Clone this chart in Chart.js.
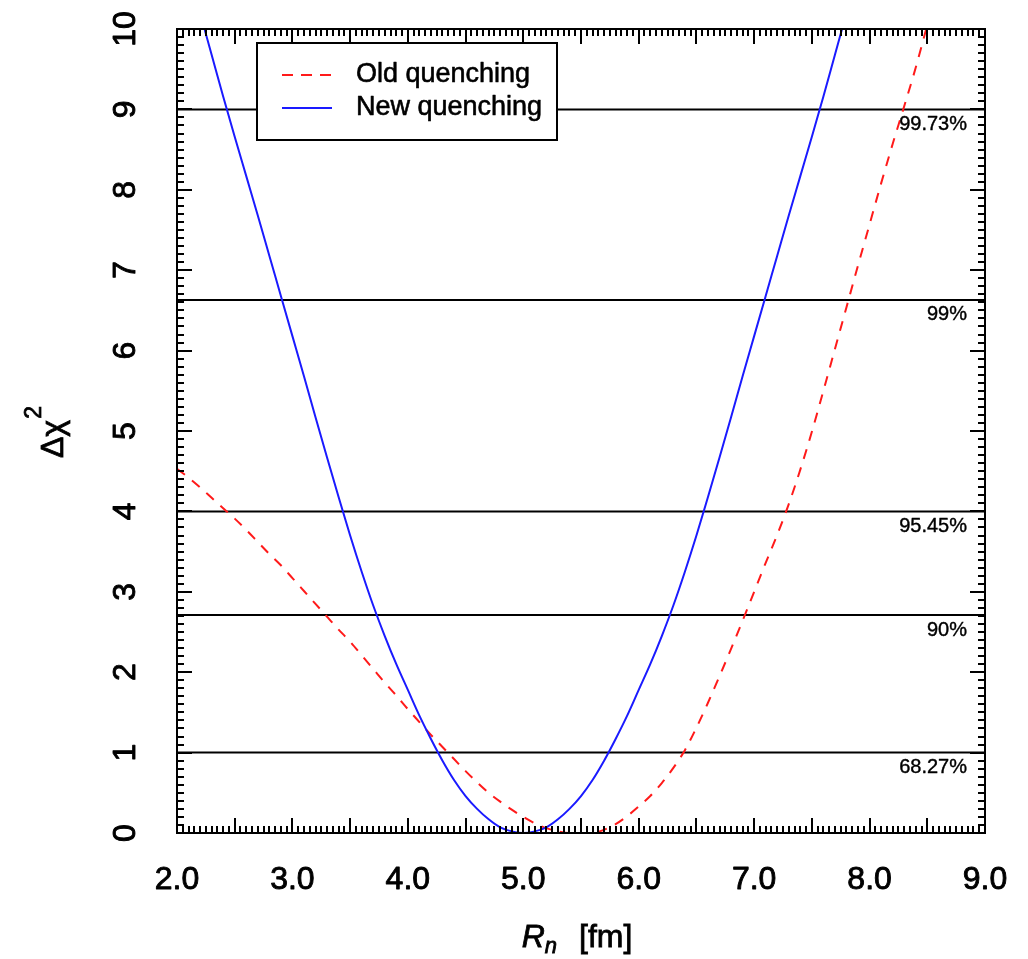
<!DOCTYPE html>
<html>
<head>
<meta charset="utf-8">
<script src="https://cdn.jsdelivr.net/npm/chart.js@4.4.1/dist/chart.umd.min.js"></script>
<style>
  html, body { margin: 0; padding: 0; background: #ffffff; }
  #wrap { width: 1028px; height: 959px; }
</style>
</head>
<body>
<div id="wrap"><canvas id="chart" width="1028" height="959"></canvas></div>
<script>
// Delta chi^2 profiles versus neutron radius R_n
const rnOld = [2.0, 2.1, 2.2, 2.3, 2.4, 2.5, 2.6, 2.7, 2.8, 2.9,
               3.0, 3.1, 3.2, 3.3, 3.4, 3.5, 3.6, 3.7, 3.8, 3.9,
               4.0, 4.1, 4.2, 4.3, 4.4, 4.5, 4.6, 4.7, 4.8, 4.9,
               5.0, 5.1, 5.2, 5.3, 5.4, 5.5, 5.6, 5.7, 5.8, 5.9,
               6.0, 6.1, 6.2, 6.3, 6.4, 6.5, 6.6, 6.7, 6.8, 6.9,
               7.0, 7.1, 7.2, 7.3, 7.4, 7.5, 7.6, 7.7, 7.8, 7.9,
               8.0, 8.1, 8.2, 8.3, 8.4, 8.5];
const chi2Old = [4.53, 4.42, 4.30, 4.17, 4.04, 3.91, 3.77, 3.62, 3.47, 3.33,
                 3.17, 3.01, 2.85, 2.69, 2.53, 2.38, 2.21, 2.04, 1.87, 1.71,
                 1.54, 1.38, 1.22, 1.07, 0.92, 0.77, 0.63, 0.50, 0.39, 0.29,
                 0.20, 0.12, 0.06, 0.02, 0.00, 0.00, 0.00, 0.04, 0.11, 0.21,
                 0.33, 0.46, 0.62, 0.81, 1.03, 1.31, 1.62, 1.95, 2.29, 2.64,
                 3.00, 3.36, 3.71, 4.09, 4.52, 4.99, 5.50, 6.02, 6.54, 7.06,
                 7.57, 8.08, 8.57, 9.04, 9.52, 10.05];

const rnNew = [2.2, 2.3, 2.4, 2.5, 2.6, 2.7, 2.8, 2.9,
               3.0, 3.1, 3.2, 3.3, 3.4, 3.5, 3.6, 3.7, 3.8, 3.9,
               4.0, 4.1, 4.2, 4.3, 4.4, 4.5, 4.6, 4.7, 4.8, 4.9,
               5.0, 5.1, 5.2, 5.3, 5.4, 5.5, 5.6, 5.7, 5.8, 5.9,
               6.0, 6.1, 6.2, 6.3, 6.4, 6.5, 6.6, 6.7, 6.8, 6.9,
               7.0, 7.1, 7.2, 7.3, 7.4, 7.5, 7.6, 7.7, 7.8];
const chi2New = [10.2, 9.68, 9.16, 8.66, 8.17, 7.68, 7.18, 6.68,
                 6.18, 5.68, 5.17, 4.67, 4.18, 3.70, 3.25, 2.83, 2.45, 2.10,
                 1.78, 1.46, 1.17, 0.90, 0.66, 0.46, 0.30, 0.17, 0.07, 0.02,
                 0.00, 0.02, 0.07, 0.17, 0.30, 0.46, 0.66, 0.90, 1.17, 1.46,
                 1.78, 2.10, 2.45, 2.83, 3.25, 3.70, 4.18, 4.67, 5.17, 5.68,
                 6.18, 6.68, 7.18, 7.68, 8.17, 8.66, 9.16, 9.68, 10.2];

// confidence-level thresholds and their labels
const clLevels = [1.0, 2.71, 4.0, 6.63, 9.0];
const clLabels = ['68.27%', '90%', '95.45%', '99%', '99.73%'];

const seriesNames = ['Old quenching', 'New quenching'];
const xTickLabels = ['2.0', '3.0', '4.0', '5.0', '6.0', '7.0', '8.0', '9.0'];
const yTickLabels = ['0', '1', '2', '3', '4', '5', '6', '7', '8', '9', '10'];

const FONT = "'Liberation Sans', Arial, Helvetica, sans-serif";
const RED = '#ff1a1a';
const BLUE = '#1a1aff';

function pairs(xs, ys) { return xs.map((x, i) => ({ x: x, y: ys[i] })); }

const X_MIN = 2, X_MAX = 9, Y_MIN = 0, Y_MAX = 10;

const datasets = [
  { label: seriesNames[1], data: pairs(rnNew, chi2New), borderColor: BLUE, borderWidth: 2,
    pointRadius: 0, fill: false, cubicInterpolationMode: 'monotone' },
  { label: seriesNames[0], data: pairs(rnOld, chi2Old), borderColor: RED, borderWidth: 2,
    borderDash: [10, 9], pointRadius: 0, fill: false, cubicInterpolationMode: 'monotone' }
];
clLevels.forEach((v, i) => {
  datasets.push({ label: clLabels[i], data: [{ x: X_MIN, y: v }, { x: X_MAX, y: v }],
    borderColor: '#000', borderWidth: 2, pointRadius: 0, fill: false });
});

// text helper; a thin outline gives the heavier look of the axis labels
function text(ctx, s, x, y, font, align, base, rot, heavy) {
  ctx.save();
  ctx.translate(x, y);
  if (rot) ctx.rotate(rot);
  ctx.font = font;
  ctx.textAlign = align;
  ctx.textBaseline = base;
  ctx.fillStyle = '#000';
  ctx.fillText(s, 0, 0);
  if (heavy) {
    ctx.strokeStyle = '#000';
    ctx.lineWidth = heavy;
    ctx.lineJoin = 'round';
    ctx.strokeText(s, 0, 0);
  }
  ctx.restore();
}

const frameAndAnnotations = {
  id: 'frameAndAnnotations',
  afterDatasetsDraw(chart) {
    const ctx = chart.ctx;
    const a = chart.chartArea;
    const xs = chart.scales.x, ys = chart.scales.y;

    // percentage labels under each threshold line
    clLevels.forEach((v, i) => {
      text(ctx, clLabels[i], a.right - 18, ys.getPixelForValue(v) + 15,
           '20px ' + FONT, 'right', 'middle', 0, 0.4);
    });

    ctx.save();
    ctx.strokeStyle = '#000';
    ctx.lineWidth = 2;
    ctx.lineCap = 'butt';
    // inward tick marks on all four sides
    ctx.beginPath();
    const xStep = 0.05;
    const nx = Math.round((X_MAX - X_MIN) / xStep);
    for (let i = 0; i <= nx; i++) {
      const px = Math.round(xs.getPixelForValue(X_MIN + i * xStep));
      const len = (i % 10 === 0) ? 15 : 7;
      ctx.moveTo(px, a.bottom); ctx.lineTo(px, a.bottom - len);
      ctx.moveTo(px, a.top); ctx.lineTo(px, a.top + len);
    }
    const yStep = 0.1;
    const ny = Math.round((Y_MAX - Y_MIN) / yStep);
    for (let i = 0; i <= ny; i++) {
      const py = Math.round(ys.getPixelForValue(Y_MIN + i * yStep));
      const len = (i % 10 === 0) ? 15 : 7;
      ctx.moveTo(a.left, py); ctx.lineTo(a.left + len, py);
      ctx.moveTo(a.right, py); ctx.lineTo(a.right - len, py);
    }
    ctx.stroke();
    // plot frame
    ctx.strokeRect(a.left, a.top, a.right - a.left, a.bottom - a.top);
    ctx.restore();

    // tick labels
    xTickLabels.forEach(s => {
      text(ctx, s, xs.getPixelForValue(parseFloat(s)), 880, '32px ' + FONT, 'center', 'middle', 0, 0.9);
    });
    yTickLabels.forEach(s => {
      text(ctx, s, 126, ys.getPixelForValue(parseFloat(s)), '32px ' + FONT, 'center', 'middle', -Math.PI / 2, 0.9);
    });

    // y title: Delta chi squared
    ctx.save();
    ctx.translate(63, 458);
    ctx.rotate(-Math.PI / 2);
    ctx.fillStyle = '#000';
    ctx.strokeStyle = '#000';
    ctx.lineWidth = 0.8;
    ctx.font = '32px ' + FONT;
    ctx.textAlign = 'left';
    ctx.textBaseline = 'alphabetic';
    ctx.fillText('\u0394\u03c7', 0, 0);
    ctx.strokeText('\u0394\u03c7', 0, 0);
    const w = ctx.measureText('\u0394\u03c7').width;
    ctx.font = '23px ' + FONT;
    ctx.fillText('2', w + 1, -22);
    ctx.strokeText('2', w + 1, -22);
    ctx.restore();

    // x title: R_n [fm]
    ctx.save();
    ctx.fillStyle = '#000';
    ctx.strokeStyle = '#000';
    ctx.lineWidth = 0.8;
    ctx.textBaseline = 'alphabetic';
    ctx.textAlign = 'left';
    const fR = 'italic 32px ' + FONT, fn = 'italic 22px ' + FONT, fu = '32px ' + FONT;
    ctx.font = fR; const wR = ctx.measureText('R').width;
    ctx.font = fn; const wn = ctx.measureText('n').width;
    ctx.font = fu; const wu = ctx.measureText('[fm]').width;
    const gap = 22;
    let x0 = 577 - (wR + wn + gap + wu) / 2;
    ctx.font = fR; ctx.fillText('R', x0, 947); ctx.strokeText('R', x0, 947); x0 += wR;
    ctx.font = fn; ctx.fillText('n', x0, 953); ctx.strokeText('n', x0, 953); x0 += wn + gap;
    ctx.font = fu; ctx.fillText('[fm]', x0, 947); ctx.strokeText('[fm]', x0, 947);
    ctx.restore();

    // legend box
    ctx.save();
    const lx = 257, ly = 43, lw = 300, lh = 97;
    ctx.fillStyle = '#fff';
    ctx.fillRect(lx, ly, lw, lh);
    ctx.strokeStyle = '#000';
    ctx.lineWidth = 2;
    ctx.strokeRect(lx, ly, lw, lh);
    const rows = [
      { name: seriesNames[0], color: RED, dash: [11, 8], y: 75 },
      { name: seriesNames[1], color: BLUE, dash: [], y: 108 }
    ];
    rows.forEach(r => {
      ctx.beginPath();
      ctx.setLineDash(r.dash);
      ctx.strokeStyle = r.color;
      ctx.lineWidth = 2;
      ctx.moveTo(282, r.y); ctx.lineTo(332, r.y);
      ctx.stroke();
      ctx.setLineDash([]);
      text(ctx, r.name, 356, r.y, '27px ' + FONT, 'left', 'middle', 0, 0.6);
    });
    ctx.restore();
  }
};

new Chart(document.getElementById('chart'), {
  type: 'line',
  data: { datasets: datasets },
  options: {
    responsive: false,
    animation: false,
    layout: { padding: { left: 177, right: 43, top: 29, bottom: 126 } },
    plugins: { legend: { display: false }, tooltip: { enabled: false } },
    scales: {
      x: { type: 'linear', min: X_MIN, max: X_MAX, display: false },
      y: { type: 'linear', min: Y_MIN, max: Y_MAX, display: false }
    }
  },
  plugins: [frameAndAnnotations]
});
</script>
</body>
</html>
